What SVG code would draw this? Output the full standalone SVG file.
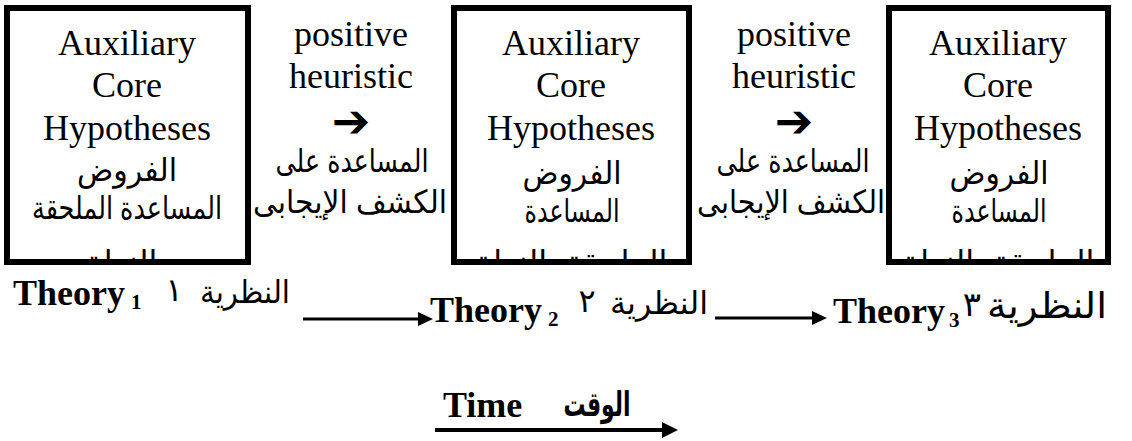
<svg xmlns="http://www.w3.org/2000/svg" width="1132" height="441" viewBox="0 0 1132 441">
<style>
.box{fill:#fff;stroke:#000;stroke-width:6}
.en{font-family:"Liberation Serif","Times New Roman",serif;font-size:36px;fill:#000;text-anchor:middle}
.ar{font-family:"Liberation Sans","DejaVu Sans",sans-serif;font-size:32px;fill:#000;text-anchor:middle}
.th{font-family:"Liberation Serif","Times New Roman",serif;font-size:36px;font-weight:bold;fill:#000}
.sub{font-size:21px}
.arb{font-family:"Liberation Sans","DejaVu Sans",sans-serif;font-size:34px;font-weight:bold;fill:#000;text-anchor:middle}
.sym{font-family:"DejaVu Sans",sans-serif;font-size:46px;font-weight:bold;fill:#000;text-anchor:middle}
.ln{stroke:#000;stroke-width:3;fill:none}
</style>
<defs>
<clipPath id="c1"><rect x="10" y="11" width="235" height="248"/></clipPath>
<clipPath id="c2"><rect x="457" y="11" width="229" height="248"/></clipPath>
<clipPath id="c3"><rect x="892" y="11" width="213" height="248"/></clipPath>
</defs>
<rect width="1132" height="441" fill="#fff"/>
<g id="box1">
<rect class="box" x="7" y="8" width="241" height="254"/>
<g clip-path="url(#c1)">
<text class="en" x="127" y="55">Auxiliary</text>
<text class="en" x="127" y="97">Core</text>
<text class="en" x="127" y="140">Hypotheses</text>
<text class="ar" x="127" y="181" textLength="100" lengthAdjust="spacingAndGlyphs">الفروض</text>
<text class="ar" x="127" y="219" textLength="190" lengthAdjust="spacingAndGlyphs">المساعدة الملحقة</text>
<text class="ar" x="127" y="273">بالنواة</text>
</g>
</g>
<g id="heur1">
<text class="en" x="351" y="46">positive</text>
<text class="en" x="351" y="88">heuristic</text>
<text class="sym" x="351" y="137">➔</text>
<text class="ar" x="352" y="172" textLength="153" lengthAdjust="spacingAndGlyphs">المساعدة على</text>
<text class="ar" x="350" y="213" textLength="194" lengthAdjust="spacingAndGlyphs">الكشف الإيجابى</text>
</g>
<g id="box2">
<rect class="box" x="454" y="8" width="235" height="254"/>
<g clip-path="url(#c2)">
<text class="en" x="571" y="55">Auxiliary</text>
<text class="en" x="571" y="97">Core</text>
<text class="en" x="571" y="140">Hypotheses</text>
<text class="ar" x="572" y="184" textLength="99" lengthAdjust="spacingAndGlyphs">الفروض</text>
<text class="ar" x="572" y="222" textLength="95" lengthAdjust="spacingAndGlyphs">المساعدة</text>
<text class="ar" x="572" y="273">الملحقة بالنواة</text>
</g>
</g>
<g id="heur2">
<text class="en" x="794" y="46">positive</text>
<text class="en" x="794" y="88">heuristic</text>
<text class="sym" x="794" y="137">➔</text>
<text class="ar" x="793" y="172" textLength="153" lengthAdjust="spacingAndGlyphs">المساعدة على</text>
<text class="ar" x="791" y="213" textLength="188" lengthAdjust="spacingAndGlyphs">الكشف الإيجابى</text>
</g>
<g id="box3">
<rect class="box" x="889" y="8" width="219" height="254"/>
<g clip-path="url(#c3)">
<text class="en" x="998" y="55">Auxiliary</text>
<text class="en" x="998" y="97">Core</text>
<text class="en" x="998" y="140">Hypotheses</text>
<text class="ar" x="999" y="184" textLength="99" lengthAdjust="spacingAndGlyphs">الفروض</text>
<text class="ar" x="999" y="222" textLength="95" lengthAdjust="spacingAndGlyphs">المساعدة</text>
<text class="ar" x="999" y="273">الملحقة بالنواة</text>
</g>
</g>
<g id="theory1">
<text class="th" x="13" y="305">Theory<tspan class="sub" dx="6" dy="4">1</tspan></text>
<text class="ar" x="174" y="301">١</text>
<text class="ar" x="245" y="303" textLength="90" lengthAdjust="spacingAndGlyphs">النظرية</text>
</g>
<g id="theory2">
<text class="th" x="430" y="322">Theory<tspan class="sub" dx="6" dy="4">2</tspan></text>
<text class="ar" x="587" y="312">٢</text>
<text class="ar" x="659" y="314" textLength="98" lengthAdjust="spacingAndGlyphs">النظرية</text>
</g>
<g id="theory3">
<text class="th" x="833" y="323">Theory<tspan class="sub" dx="4" dy="4">3</tspan></text>
<text class="ar" x="972" y="316" style="font-size:34px">٣</text>
<text class="ar" x="1047" y="318" style="font-size:36px" textLength="120" lengthAdjust="spacingAndGlyphs">النظرية</text>
</g>
<g id="time">
<text class="th" x="443" y="417">Time</text>
<text class="arb" x="597" y="416" textLength="67" lengthAdjust="spacingAndGlyphs">الوقت</text>
</g>
<g id="connectors">
<line class="ln" x1="303" y1="319" x2="420" y2="319"/>
<polygon points="418,312 433,319 418,326"/>
<line class="ln" x1="715" y1="318" x2="814" y2="318"/>
<polygon points="812,311 827,318 812,325"/>
<line class="ln" x1="435" y1="430" x2="664" y2="430" style="stroke-width:4"/>
<polygon points="662,422 678,430 662,438"/>
</g>
</svg>
